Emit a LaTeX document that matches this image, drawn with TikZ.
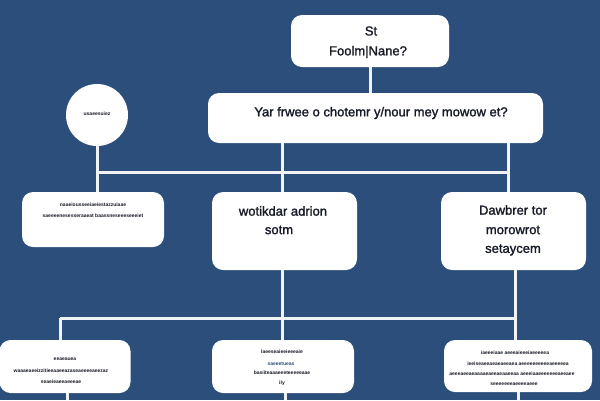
\documentclass[tikz,border=0pt]{standalone}
\usepackage{fontspec}
\setmainfont{Liberation Sans}
\newfontfamily\bigfont[FakeBold=1.5]{Liberation Sans}
\definecolor{bg}{RGB}{44,78,122}
\definecolor{ink}{RGB}{22,26,38}
\definecolor{wire}{RGB}{240,242,244}
\begin{document}
\begin{tikzpicture}[x=1pt,y=-1pt,
  box/.style={draw=none,fill=white,rounded corners=11pt,inner sep=0pt},
  big/.style={font=\bigfont\fontsize{13}{19}\selectfont,text=ink,align=center},
  tiny/.style={font=\fontsize{5}{6}\selectfont\bfseries,text=ink,inner sep=0pt},
  wireline/.style={draw=wire,line width=3pt}]
\useasboundingbox (0,0) rectangle (600,400);
\fill[bg] (0,0) rectangle (600,400);

% junction coordinates
\coordinate (jL) at (96,172);
\coordinate (jR) at (508,172);
\coordinate (kL) at (60,318);
\coordinate (kR) at (515,318);
\coordinate (eL) at (67,400);
\coordinate (eC) at (285,400);
\coordinate (eR) at (518,400);

% boxes
\node[box,minimum width=158pt,minimum height=52pt] (top) at (370,41) {};
\node[box,minimum width=335pt,minimum height=50pt] (second) at (375.5,118) {};
\node[circle,fill=white,minimum size=62pt,inner sep=0pt] (circ) at (97,115) {};
\node[box,minimum width=142pt,minimum height=55pt] (mleft) at (93,219.5) {};
\node[box,minimum width=145pt,minimum height=78pt] (mcenter) at (284.5,231) {};
\node[box,minimum width=145pt,minimum height=78pt] (mright) at (513.5,231) {};
\node[box,minimum width=131pt,minimum height=53pt] (bleft) at (65,366.5) {};
\node[box,minimum width=142pt,minimum height=53pt] (bcenter) at (283,366.5) {};
\node[box,minimum width=148pt,minimum height=52pt] (bright) at (518,366) {};

% connectors
\draw[wireline] (top.south) -- (second.north -| top.south);
\draw[wireline] (second.south -| 282,0) -- (mcenter.north -| 282,0);
\draw[wireline] (second.south -| jR) -- (mright.north -| jR);
\draw[wireline] (circ.south) -- (mleft.north -| circ.south);
\draw[wireline] (jL) -- (jR);
\draw[wireline] (mcenter.south -| 282,0) -- (bcenter.north -| 282,0);
\draw[wireline] (mright.south -| kR) -- (bright.north -| kR);
\draw[wireline] (kL) -- (kR);
\draw[wireline] (kL) -- (bleft.north -| kL);
\draw[wireline] (bleft.south -| eL) -- (eL);
\draw[wireline] (bcenter.south -| eC) -- (eC);
\draw[wireline] (bright.south -| eR) -- (eR);

% texts
\node[big] (t1) at (371,31) {St};
\node[big] (t2) at (368,52) {Foolm|Nane?};
\node[big] (t3) at (381,113) {Yar frwee o chotemr y/nour mey mowow et?};
\node[tiny] (t4) at (97,114) {usaeesuiez};
\node[tiny] (t5) at (93,205) {naaeiousseeiaeiestazzuiaae};
\node[tiny] (t6) at (93,216) {saeeeenesesseraaeat baassneseeeseeeiet};
\node[big] (t7) at (283,211) {wotikdar adrion};
\node[big] (t8) at (279,230) {sotm};
\node[big] (t9) at (513,210) {Dawbrer tor};
\node[big] (t10) at (513,230) {morowrot};
\node[big] (t11) at (513,250) {setaycem};
\node[tiny] (t12) at (65,359) {eeaeauea};
\node[tiny] (t13) at (61,371) {waaaeaeeizzitieeaaeeazaseaeeeeaeezaz};
\node[tiny] (t14) at (61,382) {seaeieaeeaeeeae};
\node[tiny] (t15) at (282,352) {laeeseaieeieeeaie};
\node[tiny,text=bg] (t16) at (281,364) {saeeetueas};
\node[tiny] (t17) at (282,373) {basiiteaaaeeeteeeeeaae};
\node[tiny] (t18) at (282,383) {ily};
\node[tiny] (t19) at (515,353) {iaeeeiaae aeeeaieeeiaeeeeea};
\node[tiny] (t20) at (518,364) {ieeiseaeeaeaeaeeaea aeeeeeeeeeeaeeeeea};
\node[tiny] (t21) at (512,374) {aeeeaeeaeaaaaeaeeaeaaeeaa aeeeiaaeeeeeeeaeeaee};
\node[tiny] (t22) at (514,384) {seeeeeeeaeeeeaeee};
\end{tikzpicture}
\end{document}
